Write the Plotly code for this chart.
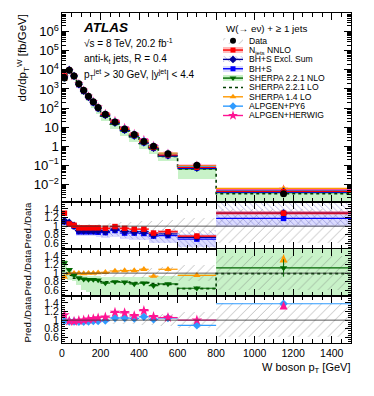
import plotly.graph_objects as go
from plotly.subplots import make_subplots

# W boson pT binning [GeV]
edges = [0, 25, 50, 75, 100, 125, 150, 175, 200, 250, 300, 350, 400, 450, 500, 600, 800, 1500]

# measured cross section [fb/GeV] and relative data uncertainty
data_xs = [3800, 9500, 4800, 1900, 850, 410, 215, 108, 48, 18.5, 8.0, 4.1, 1.8, 1.0, 0.40, 0.10, 0.0033]
data_unc = [0.06, 0.05, 0.05, 0.05, 0.05, 0.05, 0.06, 0.06, 0.07, 0.08, 0.09, 0.10, 0.11, 0.12, 0.14, 0.18, 0.40]

# predictions / data
njets = [1.30, 1.05, 1.02, 0.96, 0.96, 0.96, 0.96, 0.96, 0.95, 0.99, 0.95, 0.93, 0.93, 0.84, 0.87, 0.77, 1.30]
njets_unc = [0.04, 0.03, 0.03, 0.03, 0.03, 0.03, 0.03, 0.03, 0.03, 0.03, 0.03, 0.03, 0.03, 0.03, 0.03, 0.03, 0.04]

bhs_excl = [1.12, 1.08, 1.01, 0.90, 0.90, 0.90, 0.90, 0.90, 0.88, 0.93, 0.88, 0.87, 0.87, 0.80, 0.82, 0.74, 1.30]
bhs_excl_lo = [1.02, 0.98, 0.92, 0.80, 0.80, 0.79, 0.79, 0.78, 0.74, 0.77, 0.72, 0.70, 0.69, 0.62, 0.62, 0.50, 1.03]
bhs_excl_hi = [1.20, 1.16, 1.08, 0.98, 0.98, 0.98, 0.98, 0.98, 0.98, 1.02, 0.98, 0.97, 0.97, 0.92, 0.94, 0.90, 1.53]

bhs = [1.10, 1.05, 1.00, 0.87, 0.87, 0.87, 0.87, 0.86, 0.85, 0.90, 0.84, 0.84, 0.83, 0.77, 0.78, 0.70, 1.18]
bhs_lo = [1.02, 0.97, 0.92, 0.78, 0.77, 0.77, 0.77, 0.76, 0.72, 0.75, 0.70, 0.69, 0.68, 0.62, 0.61, 0.52, 0.98]
bhs_hi = [1.16, 1.11, 1.06, 0.94, 0.94, 0.94, 0.94, 0.93, 0.93, 0.98, 0.92, 0.92, 0.91, 0.86, 0.88, 0.82, 1.36]

sherpa_nlo = [1.24, 1.08, 0.95, 0.89, 0.86, 0.85, 0.85, 0.84, 0.77, 0.80, 0.79, 0.75, 0.77, 0.71, 0.75, 0.65, 1.12]
sherpa_nlo_err = [0.03, 0.02, 0.02, 0.02, 0.02, 0.02, 0.02, 0.02, 0.02, 0.02, 0.03, 0.03, 0.03, 0.03, 0.03, 0.04, 0.20]
sherpa_nlo_lo = [0.90, 0.85, 0.82, 0.72, 0.60, 0.56, 0.45, 0.45, 0.42, 0.42, 0.42, 0.40, 0.40, 0.40, 0.40, 0.20, 0.05]
sherpa_nlo_hi = [1.30, 1.12, 1.00, 0.95, 0.93, 0.93, 0.93, 0.93, 0.92, 0.92, 0.92, 0.92, 0.92, 0.92, 0.94, 0.98, 1.70]

sherpa_lo = [1.05, 0.95, 0.88, 0.87, 0.86, 0.85, 0.85, 0.84, 0.80, 0.80, 0.80, 0.78, 0.78, 0.76, 0.74, 0.64, 0.99]

sherpa14 = [0.91, 1.00, 1.00, 1.00, 0.99, 1.00, 1.00, 1.01, 1.02, 1.05, 1.06, 1.06, 1.09, 0.93, 1.09, 0.95, 1.90]

alpgen_py6 = [0.98, 0.97, 0.97, 0.96, 0.96, 0.97, 0.98, 0.98, 0.99, 1.05, 1.05, 1.04, 1.08, 1.02, 1.05, 0.88, 1.38]
alpgen_hw = [1.12, 0.98, 0.97, 0.99, 1.00, 1.02, 1.03, 1.05, 1.07, 1.18, 1.17, 1.10, 1.22, 1.08, 1.06, 1.00, 1.70]

ratio_ticks = [0.6, 0.8, 1, 1.2, 1.4]
ratio_ticktext = ["0.6", "0.8", "1", "1.2", "1.4"]

centers = [(a + b) / 2 for a, b in zip(edges[:-1], edges[1:])]
widths = [b - a for a, b in zip(edges[:-1], edges[1:])]
halfw = [w / 2 for w in widths]

FONT = "Liberation Sans"
W, H = 374, 396
L, R, T, B = 62, 23, 13, 53
RATIO_RANGE = [0.47, 1.56]

C_RED = "#ff0000"
C_NAVY = "#000099"
C_BLUE = "#0000ff"
C_GREEN = "#006600"
C_DKGREEN = "#003d00"
C_LTGREEN = "#c8f2c8"
C_ORANGE = "#ff9900"
C_LTBLUE = "#2f9bff"
C_PINK = "#ff1493"


def px_x(px):
    return (px - L) / (W - L - R)


def px_y(py):
    return (H - B - py) / (H - T - B)


fig = make_subplots(rows=4, cols=1, shared_xaxes=True, vertical_spacing=0,
                    row_heights=[189, 47, 47, 47])


def band(lo, hi, row, color=None, pattern=None, scale=None):
    if scale is None:
        scale = [1] * len(lo)
    base = [l * s for l, s in zip(lo, scale)]
    height = [(h - l) * s for l, h, s in zip(lo, hi, scale)]
    marker = dict(color=color or "rgba(0,0,0,0)", line=dict(width=0))
    if pattern:
        marker["pattern"] = pattern
    fig.add_trace(go.Bar(x=centers, y=height, base=base, width=widths,
                         marker=marker, showlegend=False, hoverinfo="skip"),
                  row=row, col=1)


def points(vals, row, color, symbol, size, err=None, scale=None, top=None):
    if scale is None:
        scale = [1] * len(vals)
    ys, arrows = [], []
    for v, s in zip(vals, scale):
        if top is not None and v >= top:
            ys.append(None)
            arrows.append(top - 0.13)
        else:
            ys.append(v * s)
            arrows.append(None)
    ey = dict(type="data", array=[e * s for e, s in zip(err, scale)], width=0,
              thickness=1, color=color) if err else None
    fig.add_trace(go.Scatter(
        x=centers, y=ys, mode="markers",
        marker=dict(color=color, symbol=symbol, size=size, line=dict(width=0)),
        error_x=dict(type="data", array=halfw, width=0, thickness=1.2, color=color),
        error_y=ey, showlegend=False, hoverinfo="skip"), row=row, col=1)
    if any(a is not None for a in arrows):
        fig.add_trace(go.Scatter(
            x=centers, y=arrows, mode="markers",
            marker=dict(color=color, symbol="arrow-up", size=8, line=dict(width=0)),
            error_y=dict(type="data", symmetric=False, array=[0] * len(arrows),
                         arrayminus=[0.12] * len(arrows), width=0, thickness=1.2, color=color),
            showlegend=False, hoverinfo="skip"), row=row, col=1)


def step(vals, row, color, scale=None):
    if scale is None:
        scale = [1] * len(vals)
    ys = [v * s for v, s in zip(vals, scale)]
    fig.add_trace(go.Scatter(x=edges, y=ys + [ys[-1]], mode="lines", line_shape="hv",
                             line=dict(color=color, width=1.6, dash="dot"),
                             showlegend=False, hoverinfo="skip"), row=row, col=1)


hatch_data = dict(shape="/", fgcolor="#6e6e6e", bgcolor="rgba(0,0,0,0)", size=7, solidity=0.12)
hatch_excl = dict(shape="\\", fgcolor="#6666cc", bgcolor="rgba(0,0,0,0)", size=4, solidity=0.22)
data_lo = [1 - u for u in data_unc]
data_hi = [1 + u for u in data_unc]

# ---- main panel
band(sherpa_nlo_lo, sherpa_nlo_hi, 1, color=C_LTGREEN, scale=data_xs)
step(sherpa_lo, 1, C_DKGREEN, scale=data_xs)
for vals, col, sym, sz in [(alpgen_hw, C_PINK, "star", 7), (alpgen_py6, C_LTBLUE, "diamond", 6),
                           (sherpa14, C_ORANGE, "triangle-up", 6), (sherpa_nlo, C_GREEN, "triangle-down", 6),
                           (bhs, C_BLUE, "square", 5), (bhs_excl, C_NAVY, "diamond", 6),
                           (njets, C_RED, "square", 5)]:
    points(vals, 1, col, sym, sz, scale=data_xs)
fig.add_trace(go.Scatter(x=centers, y=data_xs, mode="markers",
                         marker=dict(color="black", symbol="circle", size=7),
                         showlegend=False, hoverinfo="skip"), row=1, col=1)

# ---- ratio 1: fixed order
band(data_lo, data_hi, 2, pattern=hatch_data)
band(bhs_lo, bhs_hi, 2, color="rgba(90,90,255,0.22)")
band(bhs_excl_lo, bhs_excl_hi, 2, pattern=hatch_excl)
band([v - u for v, u in zip(njets, njets_unc)], [v + u for v, u in zip(njets, njets_unc)], 2,
     color="rgba(255,60,60,0.35)")
points(bhs, 2, C_BLUE, "square", 5.5, top=RATIO_RANGE[1])
points(bhs_excl, 2, C_NAVY, "diamond", 6.5, top=RATIO_RANGE[1])
points(njets, 2, C_RED, "square", 5.5, top=RATIO_RANGE[1])

# ---- ratio 2: parton shower generators
band(sherpa_nlo_lo, sherpa_nlo_hi, 3, color=C_LTGREEN)
band(data_lo, data_hi, 3, pattern=hatch_data)
step(sherpa_lo, 3, C_DKGREEN)
points(sherpa14, 3, C_ORANGE, "triangle-up", 6.5, top=RATIO_RANGE[1])
points(sherpa_nlo, 3, C_GREEN, "triangle-down", 6.5, err=sherpa_nlo_err, top=RATIO_RANGE[1])

# ---- ratio 3: ALPGEN
band(data_lo, data_hi, 4, pattern=hatch_data)
points(alpgen_py6, 4, C_LTBLUE, "diamond", 6.5, top=RATIO_RANGE[1])
points(alpgen_hw, 4, C_PINK, "star", 8, top=RATIO_RANGE[1])

for r in (2, 3, 4):
    fig.add_hline(y=1, row=r, col=1, line=dict(color="#333333", width=0.8))

# ---- axes
axis_common = dict(showline=True, linecolor="black", linewidth=1, mirror="ticks",
                   ticks="inside", tickcolor="black", showgrid=False, zeroline=False,
                   automargin=False, tickfont=dict(family=FONT, size=10.5, color="black"))
for r in (1, 2, 3, 4):
    fig.update_xaxes(range=[0, 1500], tick0=0, dtick=200, ticklen=7,
                     minor=dict(dtick=50, ticklen=4, ticks="inside", tickcolor="black"),
                     row=r, col=1, **axis_common)
fig.update_yaxes(type="log", range=[-2.92, 6.98], dtick=1, exponentformat="power", ticklen=7,
                 minor=dict(dtick="D1", ticklen=4, ticks="inside", tickcolor="black"),
                 row=1, col=1, **axis_common)
for r in (2, 3, 4):
    fig.update_yaxes(range=RATIO_RANGE, tickmode="array", tickvals=ratio_ticks,
                     ticktext=ratio_ticktext, ticklen=6,
                     minor=dict(dtick=0.05, tick0=0, ticklen=3, ticks="inside", tickcolor="black"),
                     row=r, col=1, **axis_common)

# ---- hand-made legend on a pixel-coordinate overlay axis
fig.update_layout(
    xaxis5=dict(domain=[0, 1], range=[L, W - R], visible=False, anchor="y5",
                fixedrange=True, automargin=False),
    yaxis5=dict(domain=[0, 1], range=[H - B, T], visible=False, anchor="x5",
                fixedrange=True, automargin=False),
)
legend_items = [
    ("Data", dict(pattern=hatch_data), None, None, ("circle", "black", 6)),
    ("N<sub>jets</sub> NNLO", dict(color="rgba(255,60,60,0.35)"), C_RED, "solid", ("square", C_RED, 5)),
    ("BH+S Excl. Sum", dict(pattern=hatch_excl), C_NAVY, "solid", ("diamond", C_NAVY, 6)),
    ("BH+S", dict(color="rgba(90,90,255,0.22)"), C_BLUE, "solid", ("square", C_BLUE, 5)),
    ("SHERPA 2.2.1 NLO", dict(color=C_LTGREEN), C_GREEN, "solid", ("triangle-down", C_GREEN, 6)),
    ("SHERPA 2.2.1 LO", None, C_DKGREEN, "dot", None),
    ("SHERPA 1.4 LO", None, C_ORANGE, "solid", ("triangle-up", C_ORANGE, 6)),
    ("ALPGEN+PY6", None, C_LTBLUE, "solid", ("diamond", C_LTBLUE, 6)),
    ("ALPGEN+HERWIG", None, C_PINK, "solid", ("star", C_PINK, 7.5)),
]
LEG_X, LEG_Y0, LEG_DY = 233, 40.7, 9.35
for i, (label, box, lcol, ldash, mk) in enumerate(legend_items):
    yy = LEG_Y0 + i * LEG_DY
    if box:
        m = dict(color=box.get("color", "rgba(0,0,0,0)"), line=dict(width=0))
        if "pattern" in box:
            m["pattern"] = box["pattern"]
        fig.add_trace(go.Bar(x=[LEG_X], y=[6], base=[yy - 3], width=[20], marker=m,
                             xaxis="x5", yaxis="y5", showlegend=False, hoverinfo="skip"))
    if lcol:
        fig.add_trace(go.Scatter(x=[LEG_X - 10, LEG_X + 10], y=[yy, yy], mode="lines",
                                 line=dict(color=lcol, width=1.4 if ldash == "solid" else 1.6, dash=ldash),
                                 xaxis="x5", yaxis="y5", showlegend=False, hoverinfo="skip"))
    if mk:
        fig.add_trace(go.Scatter(x=[LEG_X], y=[yy], mode="markers",
                                 marker=dict(symbol=mk[0], color=mk[1], size=mk[2], line=dict(width=0)),
                                 xaxis="x5", yaxis="y5", showlegend=False, hoverinfo="skip"))
    fig.add_annotation(x=px_x(247), y=px_y(yy), xref="paper", yref="paper", text=label,
                       showarrow=False, xanchor="left", yanchor="middle",
                       font=dict(family=FONT, size=8.6, color="black"))

fig.add_annotation(x=px_x(224), y=px_y(28.5), xref="paper", yref="paper",
                   text="W(→ eν) + ≥ 1 jets", showarrow=False, xanchor="left", yanchor="middle",
                   font=dict(family=FONT, size=9.8, color="black"))

# ---- ATLAS labels
fig.add_annotation(x=px_x(81), y=px_y(27), xref="paper", yref="paper", text="<b><i>ATLAS</i></b>",
                   showarrow=False, xanchor="left", yanchor="middle",
                   font=dict(family=FONT, size=13.5, color="black"))
for txt, yy in [("√s = 8 TeV, 20.2 fb<sup>-1</sup>", 43),
                ("anti-k<sub>t</sub> jets, R = 0.4", 59.5),
                ("p<sub>T</sub><sup>jet</sup> > 30 GeV, |y<sup>jet</sup>| < 4.4", 74)]:
    fig.add_annotation(x=px_x(82), y=px_y(yy), xref="paper", yref="paper", text=txt,
                       showarrow=False, xanchor="left", yanchor="middle",
                       font=dict(family=FONT, size=10, color="black"))

# ---- axis titles
fig.add_annotation(x=px_x(22), y=px_y(13), xref="paper", yref="paper",
                   text="dσ/dp<sub>T</sub><sup>W</sup> [fb/GeV]", textangle=-90,
                   showarrow=False, xanchor="center", yanchor="top",
                   font=dict(family=FONT, size=11.5, color="black"))
for yc in (225.5, 272.5, 319.5):
    fig.add_annotation(x=px_x(27), y=px_y(yc), xref="paper", yref="paper",
                       text="Pred./Data", textangle=-90, showarrow=False,
                       xanchor="center", yanchor="middle",
                       font=dict(family=FONT, size=9.6, color="black"))
fig.add_annotation(x=px_x(352), y=px_y(368), xref="paper", yref="paper",
                   text="W boson p<sub>T</sub> [GeV]", showarrow=False,
                   xanchor="right", yanchor="middle",
                   font=dict(family=FONT, size=11, color="black"))

fig.update_layout(
    width=W, height=H,
    margin=dict(l=L, r=R, t=T, b=B, pad=0, autoexpand=False),
    paper_bgcolor="white",
    plot_bgcolor="rgba(0,0,0,0)",
    barmode="overlay",
    bargap=0,
    showlegend=False,
    font=dict(family=FONT, color="black"),
)

# the page body has a default 8px margin; drop it so the figure sits at the window corner
fig.write_html("out.html", config={"displayModeBar": False},
               post_script="document.body.style.margin='0';")
